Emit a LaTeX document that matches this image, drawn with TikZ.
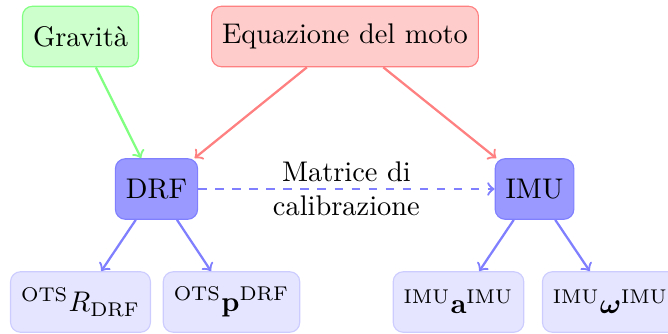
\documentclass[tikz,border=0pt]{standalone}
\usepackage{amsmath}
\begin{document}
\begin{tikzpicture}[x=0.352pt,y=-0.352pt,
  box/.style={rounded corners=3.5pt, inner xsep=3.7pt, minimum height=21.3pt, align=center},
  greenbox/.style={box, fill=green!20, draw=green!50},
  redbox/.style={box, fill=red!20, draw=red!50},
  mainbox/.style={box, fill=blue!40, draw=blue!50},
  leafbox/.style={box, fill=blue!10, draw=blue!20},
  garrow/.style={->, green!50, thick},
  rarrow/.style={->, red!50, thick},
  barrow/.style={->, blue!50, thick}]
\useasboundingbox (0,0) rectangle (668,333);
\node[greenbox] (grav) at (80.5,36.5) {Gravità};
\node[redbox] (eq) at (345,36.5) {Equazione del moto};
\node[mainbox] (drf) at (156.5,189) {DRF};
\node[mainbox] (imu) at (534.5,189) {IMU};
\node[leafbox] (otsr) at (80.5,302) {$^{\mathrm{OTS}}R_{\mathrm{DRF}}$};
\node[leafbox] (otsp) at (231.5,302) {$^{\mathrm{OTS}}\mathbf{p}^{\mathrm{DRF}}$};
\node[leafbox] (imua) at (458.5,302) {$^{\mathrm{IMU}}\mathbf{a}^{\mathrm{IMU}}$};
\node[leafbox] (imuw) at (610.5,302) {$^{\mathrm{IMU}}\boldsymbol{\omega}^{\mathrm{IMU}}$};
\draw[garrow] (grav) -- (drf);
\draw[rarrow] (eq) -- (drf);
\draw[rarrow] (eq) -- (imu);
\draw[barrow, dashed] (drf) -- node[align=center, text=black] (lbl) {Matrice di\\calibrazione} (imu);
\draw[barrow] (drf) -- (otsr);
\draw[barrow] (drf) -- (otsp);
\draw[barrow] (imu) -- (imua);
\draw[barrow] (imu) -- (imuw);
\end{tikzpicture}
\end{document}
